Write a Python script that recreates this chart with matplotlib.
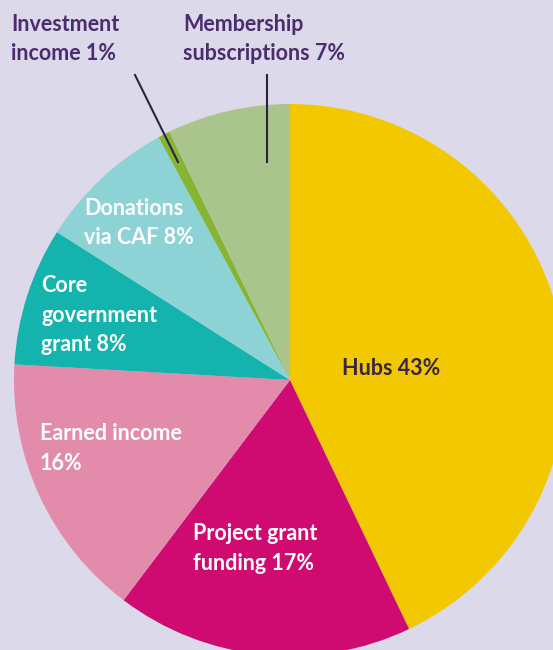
import matplotlib
matplotlib.use("Agg")
import matplotlib.pyplot as plt

# Data (wedge sizes; labels as printed)
categories = ["Hubs", "Project grant funding", "Earned income",
              "Core government grant", "Donations via CAF",
              "Investment income", "Membership subscriptions"]
shares = [42.9, 17.4, 15.6, 8.1, 8.1, 0.7, 7.2]
label_texts = ["Hubs 43%", "Project grant\nfunding 17%", "Earned income\n16%",
               "Core\ngovernment\ngrant 8%", "Donations\nvia CAF 8%",
               "Investment\nincome 1%", "Membership\nsubscriptions 7%"]
colors = ["#f2c900", "#cf0a70", "#e28bab", "#15b3ae", "#8dd3d6",
          "#86b433", "#aac58c"]

W, H = 553, 650
fig = plt.figure(figsize=(W / 100, H / 100), dpi=100)
bg = "#dcd9ea"
fig.patch.set_facecolor(bg)
ax = fig.add_axes([0, 0, 1, 1])
ax.set_facecolor(bg)

cx, cy, r = 290, H - 380, 276
ax.pie(shares, colors=colors, startangle=90, counterclock=False,
       center=(cx, cy), radius=r, frame=True,
       wedgeprops=dict(linewidth=0))
ax.set_xlim(0, W)
ax.set_ylim(0, H)
ax.set_aspect("equal")
ax.axis("off")

font = ["Lato", "DejaVu Sans"]
fs = 15.5
ls = 1.5
dark = "#4b2c6e"

def px(x, y):
    return x, H - y

def label(x, y, s, color):
    ax.text(*px(x, y), s, ha="left", va="top", color=color,
            fontsize=fs, fontweight="bold", family=font, linespacing=ls)

# outside labels
label(11, 14, label_texts[5], dark)
label(183, 14, label_texts[6], dark)

# leader lines
ax.plot([135, 178], [H - 75, H - 162], color="#2e2240", lw=1.5)
ax.plot([267, 267], [H - 75, H - 162], color="#2e2240", lw=1.5)

# inside labels
label(84, 198, label_texts[4], "white")
label(41, 275, label_texts[3], "white")
label(40, 423, label_texts[2], "white")
label(193, 523, label_texts[1], "white")
label(342, 358, label_texts[0], "#3a2440")

fig.savefig("out.png", dpi=100, facecolor=bg)
